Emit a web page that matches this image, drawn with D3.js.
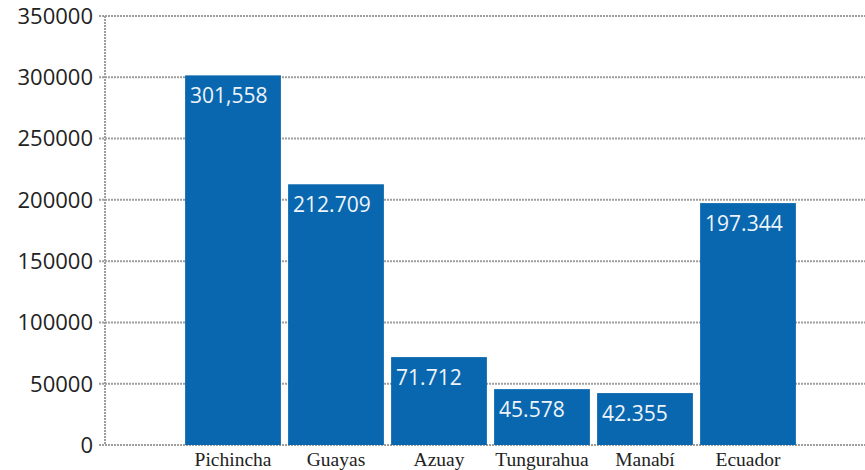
<!DOCTYPE html>
<html>
<head>
<meta charset="utf-8">
<script src="https://cdn.jsdelivr.net/npm/d3@7"></script>
<style>
  body { margin: 0; background: #fff; }
  svg { display: block; }
</style>
</head>
<body>
<div id="chart"></div>
<script>
// data
const provinces = ["Pichincha", "Guayas", "Azuay", "Tungurahua", "Manabí", "Ecuador"];
const values = [301558, 212709, 71712, 45578, 42355, 197344];
const valueLabels = ["301,558", "212.709", "71.712", "45.578", "42.355", "197.344"];
const yTicks = [0, 50000, 100000, 150000, 200000, 250000, 300000, 350000];

const width = 865, height = 470;
const margin = {top: 16, right: 0, bottom: 25, left: 105};

const svg = d3.select("#chart").append("svg")
    .attr("width", width)
    .attr("height", height);

const y = d3.scaleLinear()
    .domain([0, 350000])
    .range([height - margin.bottom, margin.top]);

const x = d3.scaleBand()
    .domain(provinces)
    .range([181.5, 799.5])
    .paddingInner(0.07)
    .paddingOuter(0.035);

// gridlines + tick labels
const grid = svg.append("g");
grid.selectAll("line")
    .data(yTicks)
    .join("line")
    .attr("x1", margin.left - 6)
    .attr("x2", width)
    .attr("y1", d => y(d))
    .attr("y2", d => y(d))
    .attr("stroke", "#9e9e9e")
    .attr("stroke-width", 2)
    .attr("stroke-dasharray", "2,1");

grid.selectAll("text")
    .data(yTicks)
    .join("text")
    .attr("x", margin.left - 12)
    .attr("y", d => y(d))
    .attr("dy", "0.36em")
    .attr("text-anchor", "end")
    .attr("font-family", "'Open Sans', sans-serif")
    .attr("font-size", 22)
    .attr("fill", "#222")
    .text(d => d);

// y axis line
svg.append("line")
    .attr("x1", margin.left)
    .attr("x2", margin.left)
    .attr("y1", y(350000))
    .attr("y2", y(0))
    .attr("stroke", "#9e9e9e")
    .attr("stroke-width", 2)
    .attr("stroke-dasharray", "2,1");

// bars
const bars = svg.append("g")
    .selectAll("g")
    .data(provinces)
    .join("g");

bars.append("rect")
    .attr("x", d => x(d))
    .attr("y", (d, i) => y(values[i]))
    .attr("width", x.bandwidth())
    .attr("height", (d, i) => y(0) - y(values[i]))
    .attr("fill", "#0867ae");

bars.append("text")
    .attr("x", d => x(d) + 5)
    .attr("y", (d, i) => y(values[i]) + 28)
    .attr("font-family", "'Open Sans', sans-serif")
    .attr("font-size", 21)
    .attr("fill", "#eef4fa")
    .text((d, i) => valueLabels[i]);

// category labels
svg.append("g")
    .selectAll("text")
    .data(provinces)
    .join("text")
    .attr("x", d => x(d) + x.bandwidth() / 2)
    .attr("y", 466)
    .attr("text-anchor", "middle")
    .attr("font-family", "'Liberation Serif', serif")
    .attr("font-size", 19.5)
    .attr("fill", "#222")
    .text(d => d);
</script>
</body>
</html>
